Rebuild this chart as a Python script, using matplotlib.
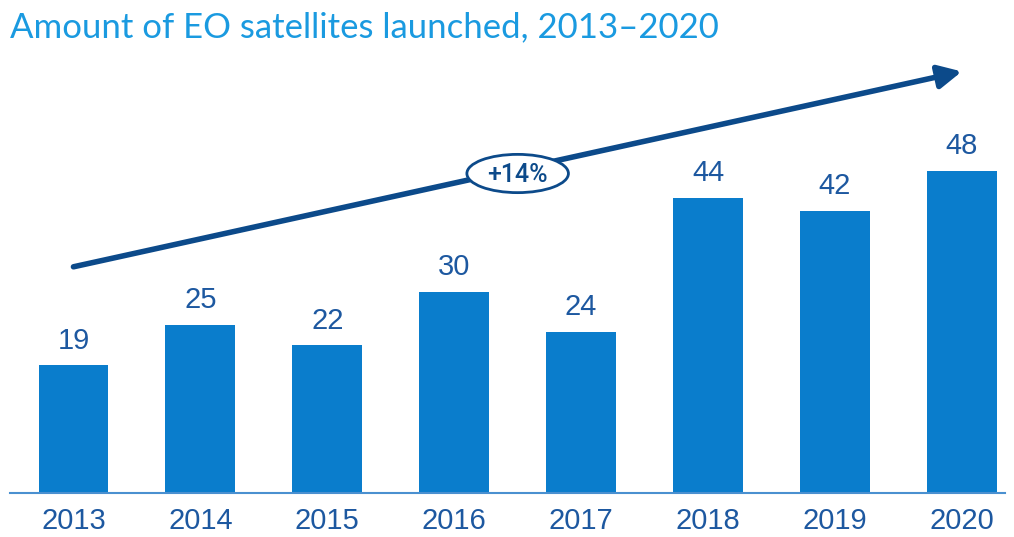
import matplotlib.pyplot as plt
from matplotlib.patches import Ellipse

years = ['2013', '2014', '2015', '2016', '2017', '2018', '2019', '2020']
launched = [19, 25, 22, 30, 24, 44, 42, 48]
growth_label = '+14%'

bar_color = '#0a7dcc'
text_color = '#1d58a0'
arrow_color = '#0c4a8a'

fig = plt.figure(figsize=(10.14, 5.37), dpi=100)
ax = fig.add_axes([10 / 1014, 44 / 537, 995 / 1014, 443 / 537])

x = list(range(len(years)))
ax.bar(x, launched, width=0.55, color=bar_color, zorder=2)
for xi, v in zip(x, launched):
    ax.text(xi, v + 1.6, str(v), ha='center', va='bottom', fontsize=21,
            color=text_color, family='Liberation Sans')

ax.set_xlim(-0.5, 7.34)
ax.set_ylim(0, 66)
ax.set_xticks(x)
ax.set_xticklabels(years, fontsize=21, color=text_color, family='Liberation Sans')
ax.tick_params(axis='x', length=0, pad=10)
ax.set_yticks([])
for s in ['top', 'right', 'left']:
    ax.spines[s].set_visible(False)
ax.spines['bottom'].set_color('#4a90d0')
ax.spines['bottom'].set_linewidth(1.5)

# trend arrow with growth badge
ax.annotate('', xy=(7.0, 62.8), xytext=(0.0, 33.7),
            arrowprops=dict(arrowstyle='-|>,head_length=1.4,head_width=0.7',
                            lw=4, color=arrow_color, shrinkA=0, shrinkB=0),
            annotation_clip=False, zorder=3)
ax.add_patch(Ellipse((3.5, 47.6), 0.8, 5.7, facecolor='white',
                     edgecolor=arrow_color, lw=2, zorder=4, clip_on=False))
ax.text(3.5, 47.4, growth_label, ha='center', va='center', fontsize=18,
        color=arrow_color, family='Roboto', fontweight='medium', zorder=5)

fig.text(10 / 1014, 1 - 37 / 537, 'Amount of EO satellites launched, 2013\u20132020',
         fontsize=25, color='#1a9ae0', family='Lato', ha='left', va='baseline')

fig.savefig('out.png', dpi=100)
